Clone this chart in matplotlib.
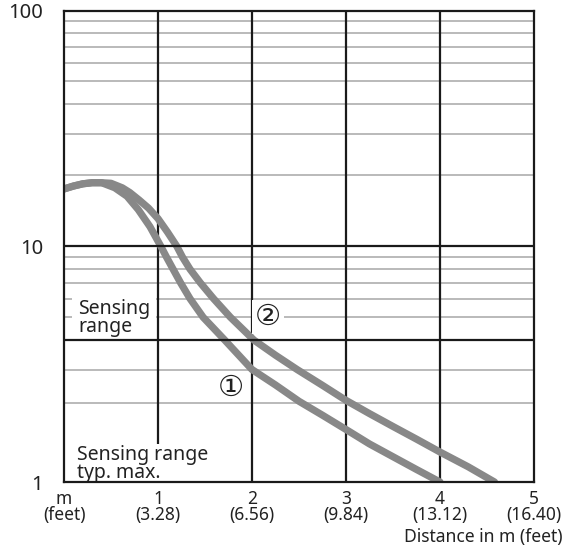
import matplotlib
matplotlib.use("Agg")
import matplotlib.pyplot as plt

plt.rcParams['font.family'] = ['Noto Sans', 'DejaVu Sans', 'Noto Sans CJK JP']

# --- data ---
curve1_x = [0, 0.1, 0.2, 0.3, 0.4, 0.54, 0.67, 0.79, 0.915, 1.03, 1.09, 1.16, 1.24, 1.34, 1.48, 1.71, 2.0, 2.25, 2.5, 2.75, 3.0, 3.25, 3.5, 3.75, 4.0]
curve1_y = [17.5, 18.0, 18.4, 18.6, 18.6, 17.7, 16.3, 14.3, 12.1, 10.0, 9.0, 8.0, 7.0, 6.0, 5.0, 4.0, 3.0, 2.58, 2.2, 1.92, 1.67, 1.45, 1.28, 1.13, 1.0]
curve2_x = [0, 0.1, 0.2, 0.3, 0.4, 0.5, 0.62, 0.7, 0.8, 0.9, 1.0, 1.1, 1.2, 1.26, 1.34, 1.45, 1.59, 1.77, 2.02, 2.25, 2.48, 2.75, 3.0, 3.25, 3.5, 3.75, 4.0, 4.3, 4.58]
curve2_y = [17.5, 18.0, 18.4, 18.6, 18.6, 18.5, 17.7, 16.9, 15.7, 14.5, 13.1, 11.5, 10.0, 9.0, 8.0, 7.0, 6.0, 5.0, 4.0, 3.45, 3.0, 2.57, 2.22, 1.95, 1.72, 1.52, 1.34, 1.16, 1.0]

x_ticks = [0, 1, 2, 3, 4, 5]
x_labels = ["m", "1", "2", "3", "4", "5"]
feet_labels = ["(feet)", "(3.28)", "(6.56)", "(9.84)", "(13.12)", "(16.40)"]
y_ticks = [1, 10, 100]
y_labels = ["1", "10", "100"]
minor_lines = [2.17, 3, 7, 8, 9, 20, 30, 40, 50, 60, 70, 80, 90]
minor_lines_gapped = [5, 6]
major_lines = [4, 10]

fig = plt.figure(figsize=(5.65, 5.59), dpi=100)
ax = fig.add_axes([64/565, 1-482/559, 470/565, 471.5/559])
ax.set_yscale('log')
ax.set_xlim(0, 5)
ax.set_ylim(1, 100)

gray = '#b4b4b4'
dark = '#1a1a1a'
for v in minor_lines + minor_lines_gapped:
    ax.axhline(v, color=gray, lw=1.3, zorder=1)
for v in major_lines:
    ax.axhline(v, color=dark, lw=1.6, zorder=6)
for v in x_ticks[1:5]:
    ax.axvline(v, color=dark, lw=1.6, zorder=3)

for s in ax.spines.values():
    s.set_color(dark)
    s.set_linewidth(1.6)
    s.set_zorder(7)

ax.plot(curve1_x, curve1_y, color='#888888', lw=5.2, solid_capstyle='round', solid_joinstyle='round', zorder=4)
ax.plot(curve2_x, curve2_y, color='#888888', lw=5.2, solid_capstyle='round', solid_joinstyle='round', zorder=4)

ax.set_xticks(x_ticks)
ax.set_xticklabels([f"{a}\n{b}" for a, b in zip(x_labels, feet_labels)], fontsize=12.5, color='#222222')
for lab in ax.get_xticklabels():
    lab.set_linespacing(0.85)
ax.set_yticks(y_ticks)
ax.set_yticklabels(y_labels, fontsize=14.5, color='#222222')
ax.yaxis.set_minor_locator(matplotlib.ticker.NullLocator())
ax.tick_params(axis='both', length=0)
ax.tick_params(axis='y', pad=15)
ax.tick_params(axis='x', pad=6)

fig.text(562/565, 1-537/559, "Distance in m (feet)", ha='right', va='center', fontsize=12.6, color='#222222')

# annotations
ax.text(0.149, 4.95, "Sensing\nrange", ha='left', va='center', fontsize=14, color='#222222', linespacing=0.88,
        zorder=5, bbox=dict(facecolor='white', edgecolor='none', pad=4))
ax.text(0.135, 1.195, "Sensing range\ntyp. max.", ha='left', va='center', fontsize=14, color='#222222', linespacing=0.86,
        zorder=5, bbox=dict(facecolor='white', edgecolor='none', pad=0.5))
ax.text(2.17, 5.0, "②", ha='center', va='center', fontsize=21, color='#222222', zorder=5,
        family=['DejaVu Sans', 'Noto Sans CJK JP'],
        bbox=dict(facecolor='white', edgecolor='none', pad=2))
ax.text(1.77, 2.51, "①", ha='center', va='center', fontsize=21, color='#222222', zorder=5,
        family=['DejaVu Sans', 'Noto Sans CJK JP'])

fig.savefig("out.png", dpi=100)
